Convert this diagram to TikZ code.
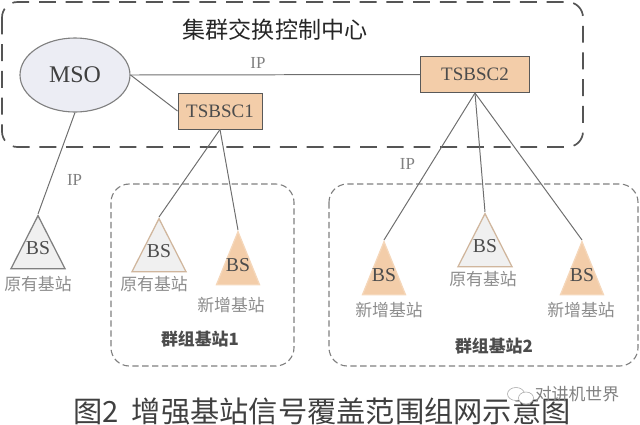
\documentclass[tikz,border=0pt]{standalone}
\usepackage{fontspec}
\setmainfont{Liberation Serif}
\newfontfamily\cjk{Noto Sans CJK SC}
\usetikzlibrary{shapes.geometric}
\definecolor{linegray}{HTML}{6E6E6E}
\definecolor{dashgray}{HTML}{555555}
\definecolor{tsorange}{HTML}{F3CDA9}
\definecolor{msofill}{HTML}{ECEDF4}

\begin{document}
\begin{tikzpicture}[x=0.025cm,y=-0.025cm]
        \tikzset{center/.style = {draw=dashgray,line width=1.2pt,dash pattern=on 12pt off 7pt,rounded corners=11pt}}
        \tikzset{group/.style = {draw=gray,line width=0.8pt,dash pattern=on 4.5pt off 2.5pt,rounded corners=13pt}}
        \tikzset{mso/.style = {shape=ellipse,draw=gray,line width=0.8pt,fill=msofill,minimum width=110*0.025cm,minimum height=74*0.025cm,inner sep=0pt,font=\fontsize{17}{17}\selectfont,text=black!75}}
        \tikzset{tsbsc/.style = {draw=black!65,line width=0.7pt,fill=tsorange,inner sep=0pt,minimum height=36*0.025cm,font=\fontsize{13.5}{13.5}\selectfont,text=black!70}}
        \tikzset{bs/.style = {shape=isosceles triangle,isosceles triangle stretches,shape border rotate=90,anchor=apex,inner sep=0pt,label={[font=\fontsize{14}{14}\selectfont,text=black!70,yshift=#1]center:BS}}}
        \tikzset{bsold/.style = {bs=3pt,minimum width=54*0.025cm,minimum height=53*0.025cm,fill=black!6,draw=gray,line width=0.9pt}}
        \tikzset{bsold2/.style = {bsold,draw=tsorange!70!gray}}
        \tikzset{bsnew/.style = {bs=3.5pt,minimum width=43*0.025cm,minimum height=53*0.025cm,fill=tsorange,draw=tsorange!80!white,line width=0.9pt}}
        \tikzset{edge/.style = {draw=linegray,line width=0.7pt}}
        \tikzset{iplabel/.style = {text=gray,font=\fontsize{12}{12}\selectfont}}
        \tikzset{site/.style = {text=black!45,font=\cjk\fontsize{12}{12}\selectfont}}
        \tikzset{groupname/.style = {text=black!70,font=\cjk\bfseries\fontsize{12}{12}\selectfont}}
        \tikzset{bubble/.style = {shape=ellipse,fill=white,draw=black!35,line width=0.4pt,inner sep=0pt}}
        \useasboundingbox (0,0) rectangle (640,424);

        \draw[center] (2,2) rectangle (583,147);
        \draw[group] (111,184) rectangle (294,366);
        \draw[group] (329,184) rectangle (638,366);

        \node[mso] (msc) at (75,75) {MSO};
        \node[tsbsc,minimum width=84*0.025cm] (ts1) at (220,111) {TSBSC1};
        \node[tsbsc,minimum width=109*0.025cm] (ts2) at (475,74.5) {TSBSC2};

        \node[bsold] (bs1) at (38,214) {};
        \node[bsold2] (bs2) at (159,217) {};
        \node[bsnew] (bs3) at (238,230) {};
        \node[bsnew] (bs4) at (384,240) {};
        \node[bsold2] (bs5) at (485,212) {};
        \node[bsnew] (bs6) at (582,240) {};

        \draw[edge] (msc.east) -- (ts2.west) node[pos=0.44, iplabel, above=1pt] (ip1) {IP};
        \draw[edge] (msc.east) -- (ts1.west);
        \draw[edge] (msc.south) -- (bs1.apex) node[pos=0.66, iplabel, right=8pt] (ip2) {IP};
        \draw[edge] (ts1.south) -- (bs2.apex);
        \draw[edge] (ts1.south) -- (bs3.apex);
        \draw[edge] (ts2.south) -- (bs4.apex) node[pos=0.48, iplabel, left=8pt] (ip3) {IP};
        \draw[edge] (ts2.south) -- (bs5.apex);
        \draw[edge] (ts2.south) -- (bs6.apex);

        \node[font=\cjk\fontsize{16.4}{16.4}\selectfont,text=black!85] (title) at (275,30) {集群交换控制中心};
        \node[site] (site1) at (38,284) {原有基站};
        \node[site] (site2) at (154,284) {原有基站};
        \node[site] (site3) at (231,305) {新增基站};
        \node[site] (site4) at (389,310) {新增基站};
        \node[site] (site5) at (483,279) {原有基站};
        \node[site] (site6) at (581,310) {新增基站};
        \node[groupname] (grp1) at (200,339) {群组基站1};
        \node[groupname] (grp2) at (494,346) {群组基站2};
        \node[font=\cjk\fontsize{20.8}{20.8}\selectfont,text=black!75] (caption) at (322,411) {图2\hspace{0.45em}增强基站信号覆盖范围组网示意图};

        \node[bubble,minimum width=17*0.025cm,minimum height=13*0.025cm] (wxa) at (516,394) {};
        \node[bubble,minimum width=15*0.025cm,minimum height=12*0.025cm] (wxb) at (526,398) {};
        \node[font=\cjk\fontsize{12}{12}\selectfont,text=black!50] (mark) at (577,394) {对讲机世界};
    \end{tikzpicture}
\end{document}
